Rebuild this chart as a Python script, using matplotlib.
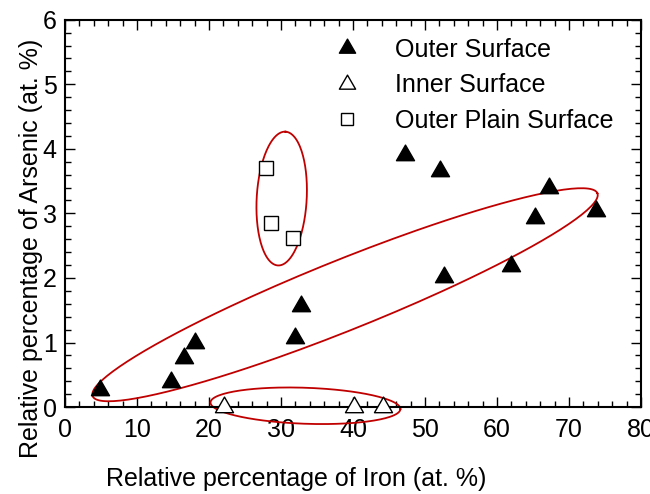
import numpy as np
import matplotlib
matplotlib.use("Agg")
import matplotlib.pyplot as plt
from matplotlib.path import Path
from matplotlib.ticker import MultipleLocator

plt.rcParams['font.family'] = ['Liberation Sans', 'DejaVu Sans']

# Outer Surface (filled triangles)
outer_fe = [4.8, 14.7, 16.5, 18.1, 32.0, 32.8, 47.2, 52.1, 52.6, 61.9, 65.3, 67.3, 73.8]
outer_as = [0.26, 0.39, 0.76, 0.99, 1.07, 1.57, 3.91, 3.66, 2.01, 2.18, 2.93, 3.39, 3.04]

# Inner Surface (open triangles)
inner_fe = [22.1, 40.1, 44.2]
inner_as = [0.0, 0.0, 0.0]

# Outer Plain Surface (open squares)
plain_fe = [27.9, 28.65, 31.7]
plain_as = [3.70, 2.85, 2.62]

# grouping ellipses: centre (data), semi-axes (px), angle (deg on screen)
ellipses = [
    ((30.1, 3.23), 67, 25, 86.8),
    ((38.9, 1.74), 272, 35, 21.9),
    ((33.4, 0.02), 95, 18, -2.0),
]

red = '#c00000'

# equilateral triangle marker
tri = Path([(-1, -0.577), (1, -0.577), (0, 1.155), (-1, -0.577)],
           [Path.MOVETO, Path.LINETO, Path.LINETO, Path.CLOSEPOLY])

fig = plt.figure(figsize=(6.5, 4.94), dpi=100)
ax = fig.add_axes([0.1, 0.176, 0.886, 0.784])

ax.plot(outer_fe, outer_as, linestyle='none', marker=tri, ms=15,
        mfc='black', mec='black', mew=1.0, label='Outer Surface', clip_on=False, zorder=3)
ax.plot(inner_fe, inner_as, linestyle='none', marker=tri, ms=15,
        mfc='white', mec='black', mew=1.0, label='Inner Surface', clip_on=False, zorder=3)
ax.plot(plain_fe, plain_as, linestyle='none', marker='s', ms=10,
        mfc='white', mec='black', mew=1.0, label='Outer Plain Surface', clip_on=False, zorder=3)

ax.set_xlim(0, 80)
ax.set_ylim(0, 6)
ax.xaxis.set_major_locator(MultipleLocator(10))
ax.xaxis.set_minor_locator(MultipleLocator(2))
ax.yaxis.set_major_locator(MultipleLocator(1))
ax.yaxis.set_minor_locator(MultipleLocator(0.2))
ax.tick_params(which='both', direction='in', top=True, right=True, width=1.0)
ax.tick_params(which='major', length=7, labelsize=18)
ax.tick_params(axis='x', which='major', pad=8)
ax.tick_params(axis='y', which='major', pad=6)
ax.tick_params(which='minor', length=4)
for s in ax.spines.values():
    s.set_linewidth(1.5)

ax.set_xlabel('Relative percentage of Iron (at. %)', fontsize=18)
ax.xaxis.set_label_coords(0.401, -0.155)
ax.set_ylabel('Relative percentage of Arsenic (at. %)', fontsize=18)
ax.yaxis.set_label_coords(-0.038, 0.41)

# draw ellipses in screen space so the shape follows the picture
t = np.linspace(0, 2 * np.pi, 200)
for (cx, cy), a, b, ang in ellipses:
    th = np.deg2rad(ang)
    c0 = ax.transData.transform((cx, cy))
    dx = a * np.cos(t) * np.cos(th) - b * np.sin(t) * np.sin(th)
    dy = a * np.cos(t) * np.sin(th) + b * np.sin(t) * np.cos(th)
    pts = ax.transData.inverted().transform(np.column_stack([c0[0] + dx, c0[1] + dy]))
    ax.plot(pts[:, 0], pts[:, 1], color=red, lw=1.3, clip_on=False, zorder=2)

leg = ax.legend(loc='upper left', bbox_to_anchor=(0.447, 0.985), frameon=False,
                fontsize=18, handlelength=1.0, handletextpad=1.4,
                labelspacing=0.45, borderpad=0, markerscale=0.9)

fig.savefig('out.png', dpi=100)
